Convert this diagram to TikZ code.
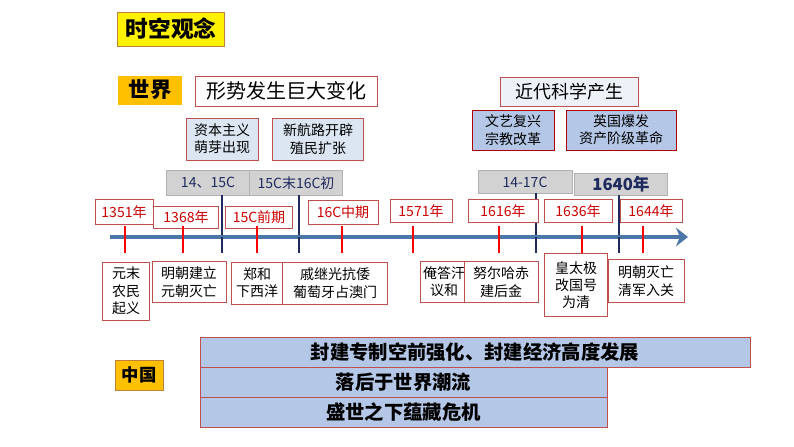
\documentclass[tikz,border=0pt]{standalone}
\usepackage{fontspec}
\setmainfont{Noto Sans CJK SC}
\usetikzlibrary{arrows.meta,positioning}
\definecolor{gold}{HTML}{FFC000}
\definecolor{paleblue}{HTML}{DCE6F2}
\definecolor{midblue}{HTML}{B4C7E7}
\definecolor{axisblue}{HTML}{4A76A8}
\definecolor{navy}{HTML}{1F2A5E}
\definecolor{boxred}{HTML}{C0504D}
\tikzset{
 box/.style={draw=boxred, inner sep=0pt, align=center, font=\fontsize{10.5}{13}\selectfont},
 yearbox/.style={box, fill=white, text=red!80!black},
 eventbox/.style={box, fill=white},
 notebox/.style={box, fill=paleblue},
 causebox/.style={box, fill=midblue, draw=red!70!black, line width=0.6pt},
 erabox/.style={box, draw=gray!60, fill=gray!35, text=navy},
 band/.style={box, fill=midblue, font=\fontsize{14.5}{16}\selectfont\bfseries},
 tick/.style={red, line width=2.2pt},
 divide/.style={navy, line width=2.2pt}
}
\begin{document}
\begin{tikzpicture}[x=0.75pt,y=-0.75pt]
 \useasboundingbox (0,0) rectangle (794,447);
%
 \node[box, draw=brown, fill=yellow, minimum width=107*0.75pt, minimum height=34*0.75pt, font=\fontsize{17}{19}\selectfont\bfseries] (title) at (171,29) {时空观念};
 \node[box, draw=none, fill=gold, minimum width=64*0.75pt, minimum height=29*0.75pt, font=\fontsize{16}{18}\selectfont\bfseries] (world) at (150,90) {世界};
 \node[box, fill=white, minimum width=182*0.75pt, minimum height=30*0.75pt, font=\fontsize{15}{17}\selectfont] (change) at (286,91) {形势发生巨大变化};
 \node[box, fill=paleblue!50, minimum width=138*0.75pt, minimum height=29*0.75pt, font=\fontsize{13.5}{15}\selectfont] (science) at (569,92) {近代科学产生};
%
 \node[notebox, minimum width=72*0.75pt, minimum height=42*0.75pt] (sprout) at (222,139) {资本主义\\萌芽出现};
 \node[notebox, minimum width=91*0.75pt, minimum height=42*0.75pt] (route) at (318,139) {新航路开辟\\殖民扩张};
 \node[causebox, minimum width=82*0.75pt, minimum height=40*0.75pt] (renais) at (513,130) {文艺复兴\\宗教改革};
 \node[causebox, minimum width=110*0.75pt, minimum height=40*0.75pt] (revol) at (621,130) {英国爆发\\资产阶级革命};
%
 \node[erabox, minimum width=84*0.75pt, minimum height=25*0.75pt] (eraA) at (208,183) {14、15C};
 \node[erabox, minimum width=93*0.75pt, minimum height=25*0.75pt] (eraB) at (296,183) {15C末16C初};
 \node[erabox, minimum width=94*0.75pt, minimum height=23*0.75pt] (eraC) at (525,182) {14-17C};
 \node[erabox, minimum width=93*0.75pt, minimum height=22*0.75pt, font=\fontsize{12.5}{14}\selectfont\bfseries] (eraD) at (621,184) {1640年};
%
 \foreach \x/\ya/\yb in {222/195/253, 299/195/250, 536/193/252, 619/195/253}
  \draw[divide] (\x,\ya) -- (\x,\yb);
%
 \node[yearbox, minimum width=58*0.75pt, minimum height=25*0.75pt] (y1351) at (124,212) {1351年};
 \node[yearbox, minimum width=65*0.75pt, minimum height=22*0.75pt] (y1368) at (186,217) {1368年};
 \node[yearbox, minimum width=67*0.75pt, minimum height=22*0.75pt] (y15c) at (259,217) {15C前期};
 \node[yearbox, minimum width=70*0.75pt, minimum height=24*0.75pt] (y16c) at (343,212) {16C中期};
 \node[yearbox, minimum width=62*0.75pt, minimum height=23*0.75pt] (y1571) at (421,211) {1571年};
 \node[yearbox, minimum width=70*0.75pt, minimum height=23*0.75pt] (y1616) at (503,211) {1616年};
 \node[yearbox, minimum width=68*0.75pt, minimum height=23*0.75pt] (y1636) at (578,211) {1636年};
 \node[yearbox, fill=none, minimum width=62*0.75pt, minimum height=23*0.75pt] (y1644) at (651,211) {1644年};
%
 \draw[axisblue, line width=3.5pt, -{Stealth[length=9pt,width=14pt]}] (110,237) -- (688,237);
 \foreach \x in {125,183,257,342,413,499,582,643}
  \draw[tick] (\x,226) -- (\x,253);
 \foreach \x in {222,299,536,619}
  \draw[divide] (\x,237) -- (\x,253);
%
 \node[eventbox, minimum width=47*0.75pt, minimum height=58*0.75pt] (rebel) at (126,291) {元末\\农民\\起义};
 \node[eventbox, minimum width=74*0.75pt, minimum height=41*0.75pt] (ming) at (189,282) {明朝建立\\元朝灭亡};
 \node[eventbox, minimum width=51*0.75pt, minimum height=42*0.75pt] (zheng) at (257,283) {郑和\\下西洋};
 \node[eventbox, minimum width=105*0.75pt, minimum height=42*0.75pt] (qi) at (335,283) {戚继光抗倭\\葡萄牙占澳门};
 \node[eventbox, minimum width=48*0.75pt, minimum height=41*0.75pt] (anda) at (444,282) {俺答汗\\议和};
 \node[eventbox, minimum width=74*0.75pt, minimum height=41*0.75pt] (nur) at (501,282) {努尔哈赤\\建后金};
 \node[eventbox, minimum width=63*0.75pt, minimum height=63*0.75pt] (huang) at (576,285) {皇太极\\改国号\\为清};
 \node[eventbox, fill=none, minimum width=76*0.75pt, minimum height=43*0.75pt] (qing) at (646,281) {明朝灭亡\\清军入关};
%
 \node[box, draw=brown, fill=gold, minimum width=48*0.75pt, minimum height=30*0.75pt, font=\fontsize{13}{15}\selectfont\bfseries] (china) at (139,375) {中国};
 \node[band, minimum width=550*0.75pt, minimum height=30*0.75pt] (feudal) at (475,352) {封建专制空前强化、封建经济高度发展};
 \node[band, minimum width=407*0.75pt, minimum height=30*0.75pt] (behind) at (403.5,382) {落后于世界潮流};
 \node[band, minimum width=407*0.75pt, minimum height=30*0.75pt] (crisis) at (403.5,412) {盛世之下蕴藏危机};
\end{tikzpicture}
\end{document}
